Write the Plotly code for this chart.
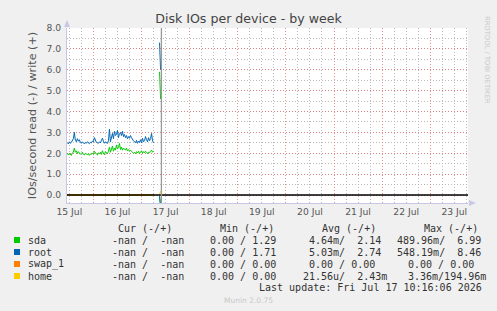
import pandas as pd
import plotly.graph_objects as go

# ---------------- data ----------------
start_main = "2026-07-15 11:00"
n_main = 87
spike_times = ["2026-07-17 09:00", "2026-07-17 09:30"]
gap_time = "2026-07-17 07:00"

root_write_main = [2.50, 2.45, 2.55, 2.48, 2.52, 2.60, 2.70, 3.00, 2.62, 2.55,
                   2.70, 2.58, 2.65, 2.52, 2.48, 2.55, 2.50, 2.45, 2.52, 2.48,
                   2.55, 2.50, 2.46, 2.53, 2.50, 2.58, 2.55, 2.75, 2.60, 2.52,
                   2.50, 2.48, 2.55, 2.50, 2.62, 2.72, 2.58, 2.48, 2.55, 2.52,
                   2.47, 2.60, 3.15, 2.55, 2.80, 2.95, 2.70, 3.05, 2.85, 2.90,
                   3.10, 2.75, 2.95, 3.00, 2.85, 3.05, 2.80, 2.90, 2.75, 2.85,
                   2.70, 2.80, 2.72, 2.85, 2.75, 2.65, 2.60, 2.55, 2.50, 2.62,
                   2.48, 2.58, 2.52, 2.65, 2.50, 2.72, 2.55, 2.60, 2.80, 2.65,
                   2.55, 2.75, 2.60, 2.70, 2.95, 2.60, 2.50]
sda_write_main = [1.98, 1.92, 2.00, 1.95, 1.90, 2.02, 2.05, 2.25, 2.05, 2.12,
                  1.98, 2.08, 2.02, 1.95, 2.00, 2.05, 1.95, 1.92, 2.00, 1.96,
                  1.93, 1.98, 1.90, 1.97, 1.95, 2.00, 1.95, 2.10, 2.00, 1.96,
                  1.92, 2.02, 1.98, 2.05, 1.95, 2.12, 2.00, 1.93, 2.08, 2.02,
                  1.98, 2.10, 2.30, 2.05, 2.20, 2.35, 2.10, 2.25, 2.15, 2.40,
                  2.20, 2.28, 2.47, 2.18, 2.30, 2.15, 2.25, 2.20, 2.15, 2.25,
                  2.12, 2.18, 2.10, 2.15, 2.08, 2.05, 2.00, 2.05, 1.98, 2.08,
                  2.02, 2.10, 1.98, 2.05, 2.12, 2.00, 2.08, 2.02, 2.10, 2.05,
                  1.98, 2.06, 2.02, 2.10, 2.15, 2.05, 2.10]
# reads are tiny (milli-IOs/s) during the normal period
sda_read_main = [0.004, 0.005, 0.003, 0.004, 0.006, 0.004, 0.005, 0.004, 0.003, 0.005,
                 0.004, 0.004, 0.005, 0.003, 0.004, 0.005, 0.004, 0.003, 0.004, 0.005,
                 0.004, 0.004, 0.003, 0.005, 0.004, 0.004, 0.005, 0.003, 0.004, 0.004,
                 0.005, 0.004, 0.003, 0.004, 0.005, 0.004, 0.004, 0.003, 0.005, 0.004,
                 0.004, 0.005, 0.003, 0.004, 0.004, 0.005, 0.004, 0.003, 0.004, 0.005,
                 0.004, 0.004, 0.003, 0.005, 0.004, 0.004, 0.005, 0.003, 0.004, 0.004,
                 0.005, 0.004, 0.003, 0.004, 0.005, 0.004, 0.004, 0.003, 0.005, 0.004,
                 0.004, 0.005, 0.003, 0.004, 0.004, 0.005, 0.004, 0.003, 0.004, 0.005,
                 0.004, 0.004, 0.003, 0.005, 0.004, 0.004, 0.005]
root_read_main = [0.005, 0.004, 0.005, 0.006, 0.004, 0.005, 0.005, 0.004, 0.006, 0.005,
                  0.005, 0.004, 0.005, 0.006, 0.004, 0.005, 0.005, 0.004, 0.006, 0.005,
                  0.005, 0.004, 0.005, 0.006, 0.004, 0.005, 0.005, 0.004, 0.006, 0.005,
                  0.005, 0.004, 0.005, 0.006, 0.004, 0.005, 0.005, 0.004, 0.006, 0.005,
                  0.005, 0.004, 0.005, 0.006, 0.004, 0.005, 0.005, 0.004, 0.006, 0.005,
                  0.005, 0.004, 0.005, 0.006, 0.004, 0.005, 0.005, 0.004, 0.006, 0.005,
                  0.005, 0.004, 0.005, 0.006, 0.004, 0.005, 0.005, 0.004, 0.006, 0.005,
                  0.005, 0.004, 0.005, 0.006, 0.004, 0.005, 0.005, 0.004, 0.006, 0.005,
                  0.005, 0.004, 0.005, 0.006, 0.004, 0.005, 0.005]

# short burst just before the last update
sda_write_spike = [5.90, 4.60]
root_write_spike = [7.30, 6.00]
swap_write_spike = [0.00, 0.00]
home_write_spike = [0.00, 0.19]
sda_read_spike = [0.05, 0.49]
root_read_spike = [0.06, 0.55]
swap_read_spike = [0.00, 0.00]
home_read_spike = [0.00, 0.00]

devices = ["sda", "root", "swap_1", "home"]
colors = ["#00CC00", "#0066B3", "#FF8000", "#FFCC00"]

legend_cur = ["-nan /  -nan", "-nan /  -nan", "-nan /  -nan", "-nan /  -nan"]
legend_min = ["0.00 / 1.29", "0.00 / 1.71", "0.00 / 0.00", "0.00 / 0.00"]
legend_avg = ["4.64m/  2.14", "5.03m/  2.74", "0.00 / 0.00", "21.56u/  2.43m"]
legend_max = ["489.96m/  6.99", "548.19m/  8.46", "0.00 / 0.00", "3.36m/194.96m"]
legend_headers = ["Cur (-/+)", "Min (-/+)", "Avg (-/+)", "Max (-/+)"]
last_update_text = "Last update: Fri Jul 17 10:16:06 2026"
last_update_marker = "2026-07-17 09:55"

x_range = ["2026-07-15 10:50", "2026-07-23 18:50"]
day_labels = ["15 Jul", "16 Jul", "17 Jul", "18 Jul", "19 Jul", "20 Jul", "21 Jul", "22 Jul", "23 Jul"]
label_noons = ["2026-07-%02d 12:00" % d for d in range(15, 24)]
y_ticks = [0, 1, 2, 3, 4, 5, 6, 7, 8]
y_range = [-0.38, 8.0]

# ---------------- build series ----------------
times_main = list(pd.date_range(start_main, periods=n_main, freq="30min"))
times = times_main + [pd.Timestamp(gap_time)] + [pd.Timestamp(t) for t in spike_times]

zero_main = [0.0 for _ in range(n_main)]
write_series = {
    "sda": sda_write_main + [None] + sda_write_spike,
    "root": root_write_main + [None] + root_write_spike,
    "swap_1": zero_main + [None] + swap_write_spike,
    "home": zero_main + [None] + home_write_spike,
}
read_series = {
    "sda": sda_read_main + [None] + sda_read_spike,
    "root": root_read_main + [None] + root_read_spike,
    "swap_1": zero_main + [None] + swap_read_spike,
    "home": zero_main + [None] + home_read_spike,
}

fig = go.Figure()
for dev, col in zip(devices, colors):
    fig.add_trace(go.Scatter(x=times, y=[None if v is None else -v for v in read_series[dev]],
                             mode="lines", line=dict(color=col, width=1),
                             connectgaps=False, showlegend=False, hoverinfo="skip"))
    fig.add_trace(go.Scatter(x=times, y=write_series[dev], mode="lines",
                             line=dict(color=col, width=1), connectgaps=False,
                             showlegend=False, hoverinfo="skip"))

# ---------------- layout ----------------
W, H = 497, 311
L, R, T, B = 67, 29, 28, 108
PW, PH = W - L - R, H - T - B


def px2x(px):
    return (px - L) / PW


def py2y(py):
    return (H - B - py) / PH


tick_font = dict(family="DejaVu Sans", size=9.2, color="#555555")
red_grid = "rgba(230,120,120,0.85)"
gray_grid = "rgba(180,180,180,0.9)"
axis_col = "#C8C8E6"

fig.update_layout(
    width=W, height=H,
    margin=dict(l=L, r=R, t=T, b=B, pad=0),
    paper_bgcolor="#F0F0F0", plot_bgcolor="#FFFFFF",
    showlegend=False,
    title=dict(text="Disk IOs per device - by week", x=0.5, xanchor="center",
               y=1 - 19 / H, yanchor="middle",
               font=dict(family="DejaVu Sans", size=12.6, color="#444444")),
    xaxis=dict(type="date", range=x_range, showticklabels=False,
               tick0="2026-07-16", dtick=86400000,
               showgrid=True, gridcolor=red_grid, griddash="1px,2px", gridwidth=1,
               minor=dict(dtick=21600000, showgrid=True, gridcolor=gray_grid,
                          griddash="1px,2px", gridwidth=1),
               showline=True, linecolor=axis_col, linewidth=1, zeroline=False,
               fixedrange=True),
    xaxis2=dict(type="date", range=x_range, overlaying="x", side="bottom",
                tickmode="array", tickvals=label_noons, ticktext=day_labels,
                showgrid=False, ticks="", tickfont=tick_font, showline=False,
                zeroline=False, ticklabelstandoff=2),
    yaxis=dict(range=y_range, tickmode="array", tickvals=y_ticks, tickformat=".1f",
               tickfont=tick_font, showgrid=True, gridcolor=red_grid,
               griddash="1px,2px", gridwidth=1,
               minor=dict(dtick=0.5, tick0=0, showgrid=True, gridcolor=gray_grid,
                          griddash="1px,2px", gridwidth=1),
               showline=True, linecolor=axis_col, linewidth=1, zeroline=False,
               ticks="", ticklabelstandoff=3,
               title=dict(text="IOs/second read (-) / write (+)", standoff=7,
                          font=dict(family="DejaVu Sans", size=11.2, color="#555555"))),
)

# invisible trace to activate xaxis2
fig.add_trace(go.Scatter(x=[x_range[0]], y=[None], xaxis="x2", showlegend=False,
                         hoverinfo="skip"))

shapes = []
# black zero line (drawn above data like rrdtool HRULE)
shapes.append(dict(type="line", xref="paper", yref="y", x0=0, x1=1, y0=0, y1=0,
                   line=dict(color="#000000", width=1.6), layer="above"))
# last-update vertical marker
shapes.append(dict(type="line", xref="x", yref="paper", x0=last_update_marker,
                   x1=last_update_marker, y0=0, y1=1,
                   line=dict(color="#999999", width=1.3), layer="above"))
# axis arrows
shapes.append(dict(type="path", xref="paper", yref="paper",
                   path="M %f %f L %f %f L %f %f Z" % (px2x(64), py2y(27), px2x(70), py2y(27),
                                                       px2x(67), py2y(20)),
                   fillcolor=axis_col, line=dict(width=0)))
shapes.append(dict(type="path", xref="paper", yref="paper",
                   path="M %f %f L %f %f L %f %f Z" % (px2x(469), py2y(200), px2x(469), py2y(206),
                                                       px2x(476), py2y(203)),
                   fillcolor=axis_col, line=dict(width=0)))

annotations = []
mono = dict(family="DejaVu Sans Mono", size=10, color="#333333")
header_x = [117, 219, 321, 423]
for hx, txt in zip(header_x, legend_headers):
    annotations.append(dict(xref="paper", yref="paper", x=px2x(hx), y=py2y(228),
                            text=txt, showarrow=False, xanchor="left", yanchor="middle",
                            font=mono, borderpad=0))
row_y = [240, 252, 264, 276]
avg_x = [308, 308, 308, 302]
max_x = [396, 396, 407, 407]
for i, dev in enumerate(devices):
    yy = py2y(row_y[i])
    shapes.append(dict(type="rect", xref="paper", yref="paper",
                       x0=px2x(14), x1=px2x(20), y0=py2y(row_y[i] + 3), y1=py2y(row_y[i] - 3),
                       fillcolor=colors[i], line=dict(width=0)))
    for xx, txt in [(26.7, dev), (111, legend_cur[i]), (209, legend_min[i]),
                    (avg_x[i], legend_avg[i]), (max_x[i], legend_max[i])]:
        annotations.append(dict(xref="paper", yref="paper", x=px2x(xx), y=yy,
                                text=txt.replace(" ", "&nbsp;"), showarrow=False,
                                xanchor="left", yanchor="middle", font=mono, borderpad=0))
annotations.append(dict(xref="paper", yref="paper", x=px2x(483), y=py2y(287.5),
                        text=last_update_text.replace(" ", "&nbsp;"), showarrow=False,
                        xanchor="right", yanchor="middle", font=mono, borderpad=0))
annotations.append(dict(xref="paper", yref="paper", x=px2x(248), y=py2y(300),
                        text="Munin 2.0.75", showarrow=False, xanchor="center",
                        yanchor="middle", borderpad=0,
                        font=dict(family="DejaVu Sans", size=7.5, color="#C8C8C8")))
annotations.append(dict(xref="paper", yref="paper", x=px2x(487), y=py2y(15),
                        text="RRDTOOL / TOBI OETIKER", showarrow=False, textangle=90,
                        xanchor="center", yanchor="top", borderpad=0,
                        font=dict(family="DejaVu Sans", size=6.8, color="#C8C8C8")))

fig.update_layout(shapes=shapes, annotations=annotations)
fig.write_html("out.html")
